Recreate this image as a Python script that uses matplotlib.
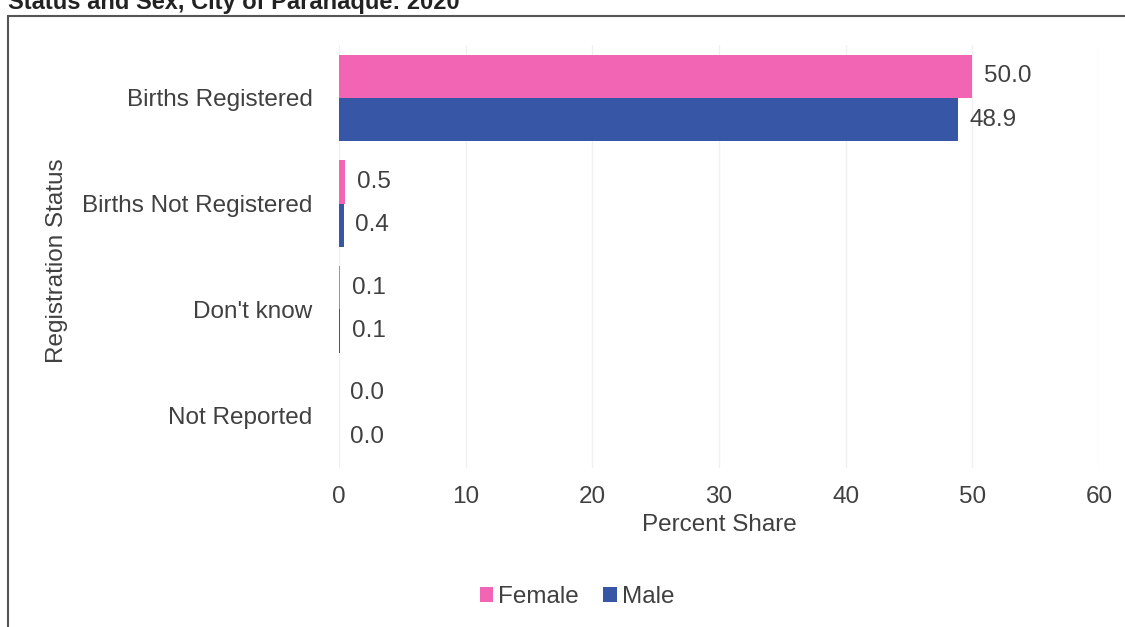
import matplotlib.pyplot as plt
from matplotlib.patches import Rectangle
import numpy as np

plt.rcParams['font.family'] = ['Liberation Sans', 'DejaVu Sans']

categories = ["Births Registered", "Births Not Registered", "Don't know", "Not Reported"]
female = [50.0, 0.5, 0.1, 0.0]
male = [48.9, 0.4, 0.1, 0.0]
xticks = [0, 10, 20, 30, 40, 50, 60]

pink = "#F264B4"
blue = "#3757A6"
txt = "#404040"
fs = 17.5

fig = plt.figure(figsize=(11.25, 6.27), dpi=100)
ax = fig.add_axes([0.3013, 0.2536, 0.6756, 0.6746])

y = np.arange(len(categories))
h = 0.41
ax.barh(y - h / 2, female, height=h, color=pink, label="Female", zorder=2)
ax.barh(y + h / 2, male, height=h, color=blue, label="Male", zorder=2)

for i in range(len(categories)):
    ax.text(female[i] + 0.9, y[i] - h / 2, f"{female[i]:.1f}", va="center", ha="left",
            fontsize=fs, color=txt)
    ax.text(male[i] + 0.9, y[i] + h / 2, f"{male[i]:.1f}", va="center", ha="left",
            fontsize=fs, color=txt)

ax.set_xlim(0, 60)
ax.set_ylim(3.5, -0.5)
ax.set_xticks(xticks)
ax.set_xticklabels([str(t) for t in xticks], fontsize=fs, color=txt)
ax.set_yticks(y)
ax.set_yticklabels(categories, fontsize=fs, color=txt)
ax.tick_params(length=0, pad=19, axis="y")
ax.tick_params(length=0, pad=13, axis="x")
ax.grid(axis="x", color="#f0f0f0", linewidth=1, zorder=0)
for s in ax.spines.values():
    s.set_visible(False)

ax.set_xlabel("Percent Share", fontsize=fs, color=txt, labelpad=4)
fig.text(0.051, 0.585, "Registration Status", rotation=90, fontsize=fs, color=txt,
         ha="center", va="center")

fig.legend(loc="center", bbox_to_anchor=(0.513, 1 - 597 / 627), ncol=2, frameon=False,
           fontsize=fs, handlelength=0.55, handleheight=0.55, handletextpad=0.2,
           columnspacing=1.0, labelcolor=txt)

# outer chart frame
fig.add_artist(Rectangle((8 / 1125, -0.05), 1.2, 1 - 16 / 627 + 0.05, transform=fig.transFigure,
                         fill=False, edgecolor="#555555", linewidth=1.5))

# title, cut at the top edge as in the source
fig.text(8 / 1125, 1 - 9 / 627, "Status and Sex, City of Parañaque: 2020", fontsize=17,
         fontweight="bold", color="#222222", ha="left", va="baseline")

fig.savefig("out.png", dpi=100)
